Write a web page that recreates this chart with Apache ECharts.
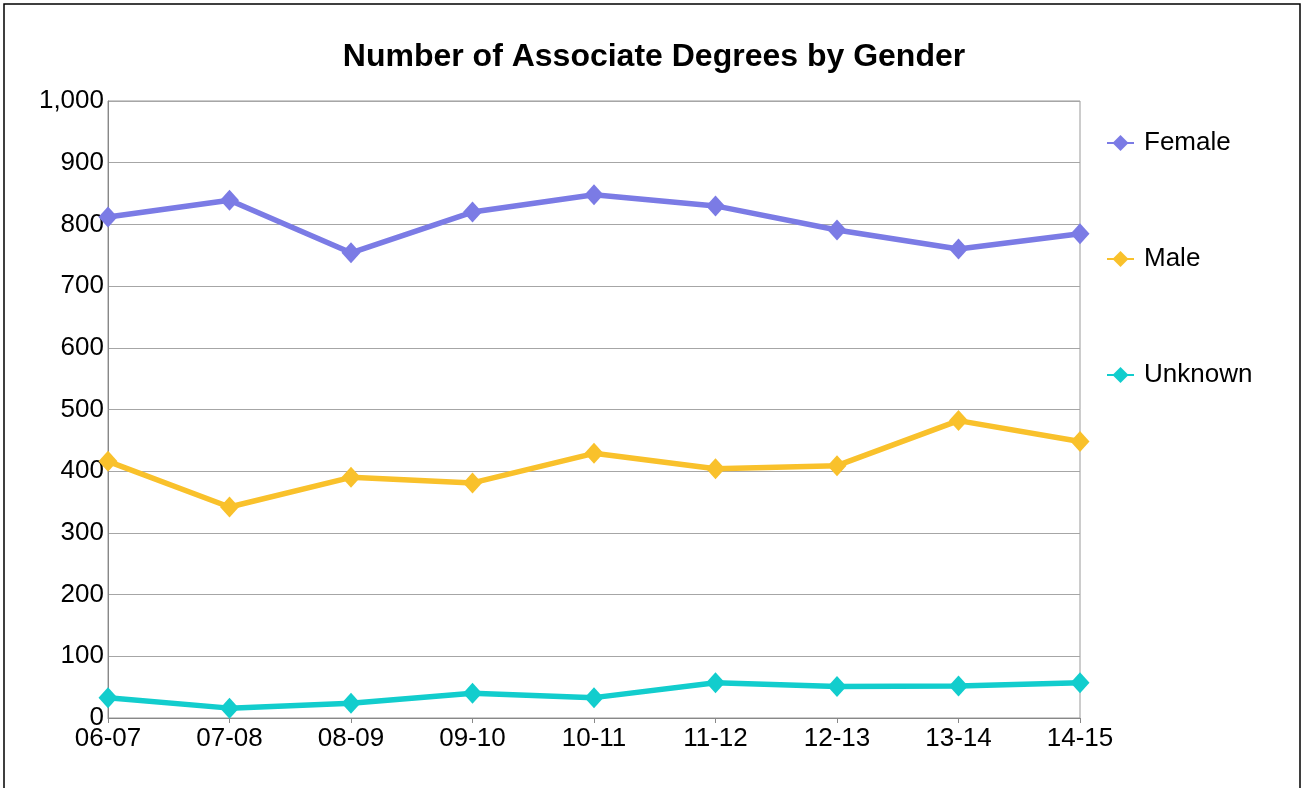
<!DOCTYPE html>
<html>
<head>
<meta charset="utf-8">
<title>Number of Associate Degrees by Gender</title>
<script src="https://cdn.jsdelivr.net/npm/echarts@6/dist/echarts.min.js"></script>
<style>
  html, body { margin: 0; padding: 0; background: #fff; }
  #chart { width: 1302px; height: 788px; }
</style>
</head>
<body>
<div id="chart"></div>
<script>
// Academic years on the category axis
const years = ['06-07', '07-08', '08-09', '09-10', '10-11', '11-12', '12-13', '13-14', '14-15'];

// Associate degrees awarded, by gender
const female = [812, 839, 754, 820, 848, 830, 791, 760, 785];
const male = [416, 342, 390, 381, 429, 404, 409, 482, 448];
const unknown = [33, 16, 24, 40, 33, 57, 51, 52, 57];

// Value axis range
const yMin = 0;
const yMax = 1000;
const yStep = 100;

const FONT = '"Liberation Sans", Arial, Helvetica, sans-serif';

function lineSeries(name, data, color) {
  return {
    name: name,
    type: 'line',
    data: data,
    symbol: 'diamond',
    symbolSize: [19, 21],
    lineStyle: { color: color, width: 5.5 },
    itemStyle: { color: color },
    emphasis: { disabled: true },
    animation: false
  };
}

const chart = echarts.init(document.getElementById('chart'), null, { renderer: 'canvas' });

chart.setOption({
  backgroundColor: '#ffffff',
  animation: false,
  graphic: [{
    type: 'rect',
    shape: { x: 4, y: 4, width: 1296, height: 800 },
    style: { fill: 'none', stroke: '#000', lineWidth: 1.5 },
    silent: true
  }],
  title: {
    text: 'Number of Associate Degrees by Gender',
    left: 654,
    top: 41,
    padding: 0,
    textAlign: 'center',
    textStyle: { fontFamily: FONT, fontSize: 32, fontWeight: 'bold', color: '#000' }
  },
  legend: {
    orient: 'vertical',
    left: 1106,
    top: 130,
    padding: 0,
    itemWidth: 27,
    itemHeight: 20,
    itemGap: 90,
    textStyle: { fontFamily: FONT, fontSize: 26, color: '#000', lineHeight: 26, padding: [0, 0, 0, 5] },
    data: ['Female', 'Male', 'Unknown']
  },
  grid: {
    left: 108,
    right: 222,
    top: 101,
    bottom: 70,
    show: true,
    borderColor: '#999',
    borderWidth: 1,
    containLabel: false
  },
  xAxis: {
    type: 'category',
    data: years,
    boundaryGap: false,
    axisLine: { lineStyle: { color: '#888', width: 1 } },
    axisTick: { show: true, length: 5, alignWithLabel: true, lineStyle: { color: '#888' } },
    axisLabel: { fontFamily: FONT, fontSize: 26, color: '#000', margin: 8 },
    splitLine: { show: false }
  },
  yAxis: {
    type: 'value',
    min: yMin,
    max: yMax,
    interval: yStep,
    axisLine: { show: true, lineStyle: { color: '#888', width: 1 } },
    axisTick: { show: false },
    axisLabel: {
      fontFamily: FONT,
      fontSize: 26,
      color: '#000',
      margin: 4,
      formatter: v => v.toLocaleString('en-US')
    },
    splitLine: { show: true, lineStyle: { color: '#a6a6a6', width: 1 } }
  },
  series: [
    lineSeries('Female', female, '#7b7be5'),
    lineSeries('Male', male, '#f9c12b'),
    lineSeries('Unknown', unknown, '#12cdcd')
  ]
});
</script>
</body>
</html>
